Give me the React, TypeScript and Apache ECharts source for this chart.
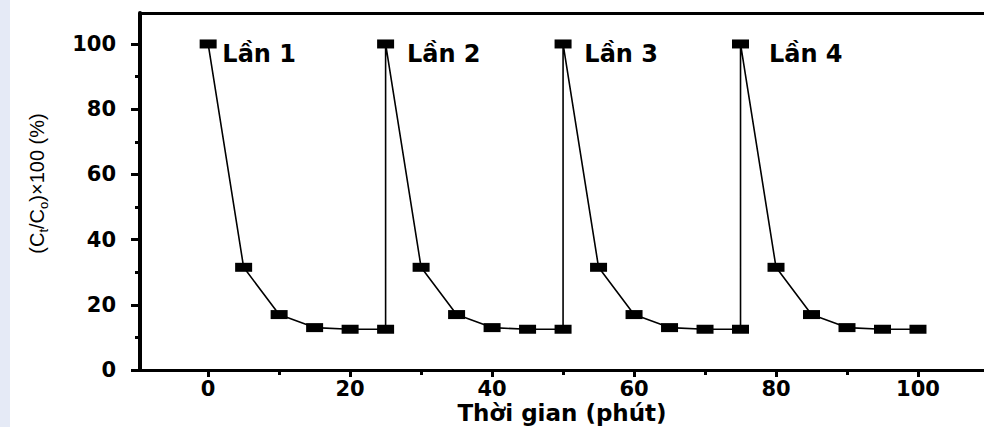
import React, { useEffect, useRef } from "react";
import * as echarts from "echarts";

// Time (minutes) and C_t/C_0 x 100 (%) for the four reuse cycles
const cycleTimes = [0, 5, 10, 15, 20, 25];
const run1 = [100, 31.5, 17, 13, 12.5, 12.5];
const run2 = [100, 31.5, 17, 13, 12.5, 12.5];
const run3 = [100, 31.5, 17, 13, 12.5, 12.5];
const run4 = [100, 31.5, 17, 13, 12.5, 12.5];
const runs = [run1, run2, run3, run4];
const cycleLength = 25;

const runNames = ["Lần 1", "Lần 2", "Lần 3", "Lần 4"];
const runLabelX = [2, 28, 53, 79];
const runLabelY = [97, 97, 97, 97];

const xTicks = [0, 20, 40, 60, 80, 100];
const xMinorTicks = [10, 30, 50, 70, 90];
const yTicks = [0, 20, 40, 60, 80, 100];
const yMinorTicks = [10, 30, 50, 70, 90];

const X_MIN = -9.6;
const X_MAX = 109.3;
const Y_MIN = 0;
const Y_MAX = 109.5;

export default function App() {
  const ref = useRef<HTMLDivElement>(null);

  useEffect(() => {
    if (!ref.current) return;
    const chart = echarts.init(ref.current, undefined, { renderer: "svg" });

    const lineData: number[][] = [];
    runs.forEach((vals, r) => {
      vals.forEach((v, i) => {
        lineData.push([cycleTimes[i] + r * cycleLength, v]);
      });
    });

    const labelData = runNames.map((n, i) => ({
      value: [runLabelX[i], runLabelY[i]],
      name: n,
    }));

    const tickFont = {
      fontFamily: "DejaVu Sans",
      fontWeight: "bold" as const,
      fontSize: 21,
      lineHeight: 20,
      color: "#000",
    };

    chart.setOption({
      animation: false,
      backgroundColor: "#fff",
      grid: {
        left: 140,
        right: 0,
        top: 13,
        bottom: 57,
        containLabel: false,
        outerBoundsMode: "none",
      },
      xAxis: [
        {
          type: "value",
          position: "bottom",
          min: X_MIN,
          max: X_MAX,
          axisLine: { show: true, onZero: false, lineStyle: { color: "#000", width: 3 } },
          axisTick: { show: true, length: 7, customValues: xTicks, lineStyle: { color: "#000", width: 3 } },
          axisLabel: { ...tickFont, customValues: xTicks, margin: 9 },
          splitLine: { show: false },
          name: "Thời gian (phút)",
          nameLocation: "middle",
          nameGap: 32,
          nameMoveOverlap: false,
          nameTextStyle: {
            fontFamily: "DejaVu Sans",
            fontWeight: "bold",
            fontSize: 23,
            lineHeight: 22,
            color: "#000",
          },
        },
        {
          type: "value",
          position: "bottom",
          min: X_MIN,
          max: X_MAX,
          axisLine: { show: false, onZero: false },
          axisTick: { show: true, length: 5, customValues: xMinorTicks, lineStyle: { color: "#000", width: 3 } },
          axisLabel: { show: false },
          splitLine: { show: false },
        },
        {
          type: "value",
          position: "top",
          min: X_MIN,
          max: X_MAX,
          axisLine: { show: true, onZero: false, lineStyle: { color: "#000", width: 3 } },
          axisTick: { show: false },
          axisLabel: { show: false },
          splitLine: { show: false },
        },
      ],
      yAxis: [
        {
          type: "value",
          position: "left",
          min: Y_MIN,
          max: Y_MAX,
          axisLine: { show: true, onZero: false, lineStyle: { color: "#000", width: 4 } },
          axisTick: { show: true, length: 9, customValues: yTicks, lineStyle: { color: "#000", width: 3 } },
          axisLabel: { ...tickFont, customValues: yTicks, margin: 24 },
          splitLine: { show: false },
          name: "{a|(C}{s|t}{a|/C}{s|o}{a|)×100 (%)}",
          nameLocation: "middle",
          nameGap: 90,
          nameMoveOverlap: false,
          nameTextStyle: {
            padding: [0, 0, 0, 16],
            rich: {
              a: {
                fontFamily: "Liberation Sans",
                fontSize: 20,
                lineHeight: 26,
                color: "#000",
              },
              s: {
                fontFamily: "Liberation Sans",
                fontSize: 13,
                lineHeight: 13,
                verticalAlign: "bottom",
                color: "#000",
              },
            },
          },
        },
        {
          type: "value",
          position: "left",
          min: Y_MIN,
          max: Y_MAX,
          axisLine: { show: false, onZero: false },
          axisTick: { show: true, length: 5, customValues: yMinorTicks, lineStyle: { color: "#000", width: 3 } },
          axisLabel: { show: false },
          splitLine: { show: false },
        },
      ],
      series: [
        {
          type: "line",
          xAxisIndex: 0,
          yAxisIndex: 0,
          data: lineData,
          symbol: "rect",
          symbolSize: [17, 9],
          showAllSymbol: true,
          lineStyle: { color: "#000", width: 1.6 },
          itemStyle: { color: "#000" },
          z: 3,
        },
        {
          type: "scatter",
          xAxisIndex: 0,
          yAxisIndex: 0,
          data: labelData,
          symbolSize: 0,
          silent: true,
          itemStyle: { opacity: 1 },
          label: {
            show: true,
            position: "right",
            distance: 0,
            formatter: (p: any) => p.name,
            fontFamily: "DejaVu Sans",
            fontWeight: "bold",
            fontSize: 24,
            color: "#000",
            opacity: 1,
          },
        },
      ],
    });

    return () => chart.dispose();
  }, []);

  return (
    <div style={{ position: "fixed", left: 0, top: 0, width: 984, height: 427, background: "#fff" }}>
      <div style={{ position: "absolute", left: 0, top: 0, width: 10, height: 427, background: "#e5eaf6", zIndex: 2 }} />
      <div ref={ref} style={{ position: "absolute", left: 0, top: 0, width: 984, height: 427 }} />
    </div>
  );
}
